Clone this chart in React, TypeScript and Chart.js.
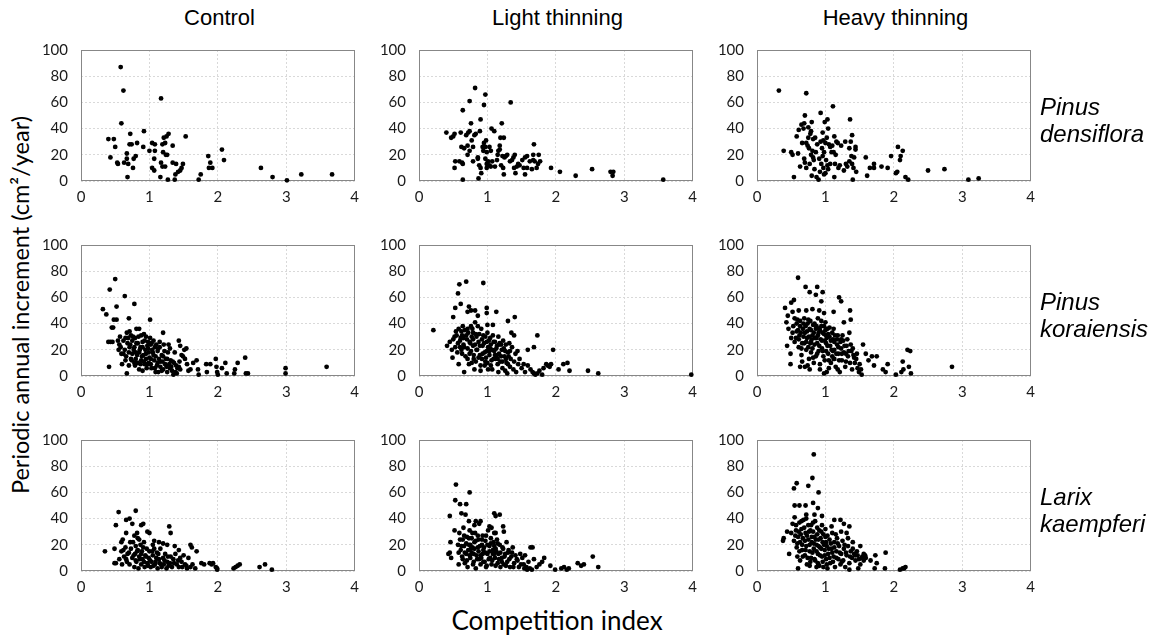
import React, { useEffect, useRef } from 'react';
import { Chart, registerables } from 'chart.js';
Chart.register(...registerables);

type P = [number, number][];

// Pinus densiflora
const pdControl: P = [[0.58,87],[0.62,69],[0.59,44],[0.40,32],[0.48,32],[0.50,26],[0.43,18],[0.53,14],[0.54,13],[0.72,36],[0.71,28],[0.74,28],[0.82,29],[0.92,38],[0.91,26],[0.67,21],[0.67,17],[0.69,13],[0.63,14],[0.77,17],[0.80,19],[0.76,10],[0.68,3],[1.00,23],[1.04,29],[1.08,28],[1.08,23],[1.07,17],[1.04,10],[1.07,8],[1.17,63],[1.21,33],[1.25,34],[1.28,36],[1.19,28],[1.23,29],[1.20,22],[1.24,20],[1.26,20],[1.17,14],[1.19,11],[1.23,11],[1.16,3],[1.27,1],[1.34,27],[1.34,14],[1.39,13],[1.38,5],[1.37,1],[1.42,7],[1.45,8],[1.47,10],[1.49,13],[1.53,34],[1.72,1],[1.75,5],[1.86,19],[1.89,14],[1.87,10],[1.92,10],[2.06,24],[2.09,16],[2.63,10],[2.80,3],[3.01,0.5],[3.22,5],[3.67,5]];
const pdLight: P = [[0.40,37],[0.47,33],[0.50,34],[0.52,36],[0.52,10],[0.53,15],[0.61,37],[0.64,54],[0.62,26],[0.66,25],[0.59,15],[0.63,14],[0.64,13],[0.64,1],[0.74,61],[0.76,44],[0.69,35],[0.72,37],[0.74,38],[0.77,31],[0.71,27],[0.74,23],[0.71,20],[0.79,26],[0.79,15],[0.82,71],[0.81,35],[0.83,36],[0.86,18],[0.86,17],[0.87,2],[0.89,38],[0.90,47],[0.88,12],[0.90,10],[0.91,6],[0.93,26],[0.94,23],[0.95,58],[0.97,66],[0.95,29],[0.98,31],[0.97,26],[0.99,22],[0.97,17],[0.99,13],[0.99,10],[1.01,15],[1.03,26],[1.03,12],[1.05,11],[1.05,23],[1.06,40],[1.10,38],[1.07,15],[1.11,11],[1.14,16],[1.15,20],[1.16,23],[1.18,24],[1.18,27],[1.19,33],[1.21,44],[1.24,33],[1.22,19],[1.20,12],[1.23,10],[1.24,5],[1.25,18],[1.27,19],[1.29,20],[1.34,60],[1.33,15],[1.36,16],[1.38,18],[1.40,20],[1.39,10],[1.41,6],[1.43,11],[1.45,13],[1.47,12],[1.51,16],[1.53,10],[1.55,18],[1.58,19],[1.55,5],[1.58,10],[1.62,15],[1.65,9],[1.67,20],[1.68,28],[1.67,16],[1.69,15],[1.72,10],[1.74,13],[1.75,20],[1.77,15],[1.93,10],[2.06,7],[2.29,4],[2.53,9],[2.80,7],[2.84,7],[2.83,4],[3.57,1]];
const pdHeavy: P = [[0.32,69],[0.72,67],[0.39,23],[0.50,22],[0.52,20],[0.60,21],[0.54,3],[0.58,34],[0.61,39],[0.65,43],[0.69,44],[0.70,50],[0.68,40],[0.75,41],[0.66,29],[0.72,29],[0.75,33],[0.78,36],[0.80,45],[0.79,38],[0.82,32],[0.85,33],[0.76,25],[0.79,20],[0.82,18],[0.83,16],[0.86,22],[0.77,13],[0.72,10],[0.69,17],[0.63,11],[0.70,14],[0.80,4],[0.87,3],[0.90,1],[0.93,52],[0.99,45],[1.03,47],[1.11,57],[1.04,40],[0.96,37],[0.93,30],[0.97,31],[1.00,29],[1.02,33],[1.05,28],[1.07,26],[0.95,25],[0.98,22],[0.94,13],[0.97,10],[1.00,6],[0.98,5],[1.03,12],[1.04,9],[1.07,13],[1.09,22],[1.12,22],[1.13,34],[1.16,30],[1.18,29],[1.14,13],[1.13,3],[1.19,10],[1.21,12],[1.23,27],[1.27,8],[1.29,30],[1.30,13],[1.32,11],[1.35,25],[1.36,47],[1.37,30],[1.39,35],[1.38,19],[1.35,15],[1.39,13],[1.41,10],[1.40,1],[1.44,26],[1.44,24],[1.45,7],[1.42,18],[1.59,18],[1.61,4],[1.65,10],[1.71,13],[1.71,10],[1.82,11],[1.91,10],[1.96,19],[2.03,6],[2.05,7],[2.06,26],[2.13,23],[2.10,19],[2.09,16],[2.17,3],[2.21,1],[2.50,8],[2.74,9],[3.09,1],[3.24,2],[0.74,27],[0.81,23],[0.88,28],[0.91,17],[0.96,19],[1.01,16],[1.10,27],[1.15,20],[0.84,9],[0.92,7]];

// Pinus koraiensis
const pkControl: P = [[0.32,51],[0.37,47],[0.42,66],[0.50,74],[0.52,53],[0.48,43],[0.52,43],[0.45,37],[0.47,37],[0.40,26],[0.43,26],[0.46,26],[0.41,7],[0.64,61],[0.70,44],[0.78,55],[1.01,43],[1.20,33],[0.54,27],[0.56,24],[0.55,20],[0.59,17],[0.60,9],[0.65,29],[0.67,33],[0.71,34],[0.73,31],[0.68,25],[0.71,22],[0.65,12],[0.67,2],[0.75,27],[0.79,29],[0.81,36],[0.85,36],[0.83,25],[0.78,22],[0.75,17],[0.80,13],[0.83,10],[0.85,5],[0.87,22],[0.90,26],[0.92,32],[0.95,30],[0.94,20],[0.91,16],[0.88,12],[0.93,9],[0.96,6],[0.98,26],[1.01,29],[1.03,25],[0.99,18],[1.02,13],[0.99,10],[1.06,16],[1.08,6],[1.10,24],[1.12,19],[1.14,13],[1.09,3],[1.15,22],[1.18,16],[1.19,11],[1.13,3],[1.22,19],[1.24,13],[1.27,18],[1.28,24],[1.31,12],[1.32,7],[1.36,10],[1.38,3],[1.40,2],[1.43,27],[1.45,23],[1.47,16],[1.49,15],[1.51,20],[1.54,21],[1.52,13],[1.55,9],[1.57,4],[1.43,7],[1.45,5],[1.60,5],[1.64,10],[1.69,12],[1.71,5],[1.72,1],[1.83,9],[1.84,3],[1.89,9],[1.97,13],[1.98,7],[1.99,3],[2.00,1],[2.06,6],[2.11,10],[2.13,2],[2.25,5],[2.24,2],[2.29,10],[2.40,14],[2.41,2],[2.44,2],[2.99,6],[2.99,2],[3.59,7],[0.85,18],[0.88,31],[0.97,23],[1.04,20],[1.07,12],[1.02,9],[1.12,10],[1.16,7],[1.20,5],[1.25,7],[1.26,3],[1.29,9],[1.33,4],[1.35,1],[1.41,6],[0.80,18],[0.73,13],[0.70,8],[0.62,17],[0.57,30],[0.78,10],[0.90,4],[0.95,13],[1.08,22],[1.15,26],[1.21,24],[1.30,21],[1.37,18],[0.58,22],[0.62,27],[0.64,20],[0.66,15],[0.69,29],[0.70,18],[0.72,24],[0.74,12],[0.76,30],[0.77,20],[0.79,8],[0.81,25],[0.82,16],[0.84,30],[0.86,20],[0.87,9],[0.89,15],[0.90,22],[0.92,11],[0.93,27],[0.95,17],[0.97,9],[0.98,21],[1.00,14],[1.02,24],[1.03,6],[1.05,18],[1.06,27],[1.09,15],[1.11,8],[1.13,21],[1.16,11],[1.18,4],[1.20,15],[1.23,9],[1.26,13],[1.30,6],[1.34,11],[1.39,8],[1.44,11]];
const pkLight: P = [[0.21,35],[0.59,70],[0.69,72],[0.94,71],[0.57,63],[0.61,55],[0.53,52],[0.50,45],[0.73,53],[0.76,50],[0.82,50],[0.71,49],[0.86,46],[0.99,52],[0.99,48],[1.13,49],[1.08,39],[1.00,39],[1.30,42],[1.40,45],[1.35,33],[1.39,31],[1.73,31],[1.68,22],[1.59,20],[1.96,20],[1.44,19],[0.41,23],[0.45,26],[0.48,20],[0.49,14],[0.52,30],[0.54,34],[0.57,25],[0.58,9],[0.61,29],[0.62,34],[0.64,38],[0.63,17],[0.66,3],[0.66,22],[0.69,31],[0.71,36],[0.74,26],[0.74,17],[0.76,38],[0.77,30],[0.79,23],[0.80,13],[0.82,41],[0.83,32],[0.84,20],[0.81,5],[0.87,26],[0.89,16],[0.90,4],[0.91,36],[0.93,23],[0.94,31],[0.96,18],[0.97,11],[0.99,26],[1.00,33],[1.01,22],[1.01,5],[1.03,16],[1.04,29],[1.05,24],[1.06,12],[1.07,5],[1.08,31],[1.10,19],[1.11,26],[1.12,13],[1.14,23],[1.15,9],[1.16,30],[1.17,17],[1.18,25],[1.19,11],[1.21,20],[1.22,6],[1.23,27],[1.25,15],[1.27,24],[1.28,10],[1.29,2],[1.30,18],[1.32,25],[1.33,7],[1.34,13],[1.36,22],[1.38,5],[1.39,11],[1.41,17],[1.42,3],[1.45,9],[1.47,13],[1.50,6],[1.53,9],[1.55,3],[1.59,8],[1.63,5],[1.66,3],[1.68,2],[1.70,1],[1.73,2],[1.76,4],[1.80,1],[1.82,6],[1.86,9],[1.88,8],[1.91,7],[1.93,9],[2.04,5],[2.11,9],[2.17,10],[2.20,4],[2.47,4],[2.62,2],[3.98,1],[0.79,33],[0.86,38],[0.71,13],[0.77,10],[0.65,29],[0.60,22],[0.92,13],[0.98,14],[1.03,19],[1.09,13],[1.14,16],[1.20,24],[1.26,19],[1.31,15],[1.16,3],[1.26,4],[0.50,28],[0.53,22],[0.55,31],[0.56,18],[0.58,36],[0.60,27],[0.62,20],[0.63,31],[0.65,24],[0.67,35],[0.68,15],[0.70,28],[0.71,21],[0.72,33],[0.73,9],[0.75,25],[0.76,19],[0.78,36],[0.79,28],[0.80,16],[0.82,24],[0.83,11],[0.84,30],[0.85,20],[0.87,14],[0.88,32],[0.89,23],[0.90,8],[0.92,28],[0.93,17],[0.95,25],[0.96,8],[0.97,30],[0.99,19],[1.00,10],[1.02,27],[1.04,21],[1.05,8],[1.07,20],[1.09,26],[1.11,16],[1.13,21],[1.15,13],[1.17,24],[1.20,15],[1.22,11],[1.24,21],[1.27,13],[1.30,9],[1.33,19]];
const pkHeavy: P = [[0.60,75],[0.71,68],[0.88,68],[0.77,64],[0.86,62],[0.96,64],[0.94,57],[0.54,58],[0.50,56],[0.41,52],[0.52,49],[0.61,50],[0.72,50],[0.81,51],[0.91,50],[0.98,48],[1.12,49],[1.20,60],[1.23,57],[1.36,50],[1.37,43],[1.27,41],[0.45,46],[0.43,41],[0.46,36],[0.44,23],[0.49,17],[0.49,9],[1.55,24],[1.59,17],[1.68,15],[1.75,15],[1.71,8],[1.84,5],[1.91,9],[1.88,3],[2.03,1],[2.13,11],[2.20,20],[2.24,19],[2.22,7],[2.14,5],[2.11,3],[2.25,2],[2.85,7],[0.50,29],[0.53,38],[0.55,26],[0.58,34],[0.59,43],[0.61,22],[0.62,31],[0.63,38],[0.65,16],[0.66,25],[0.68,40],[0.70,33],[0.70,7],[0.72,20],[0.73,29],[0.75,43],[0.76,13],[0.77,36],[0.78,25],[0.79,18],[0.81,31],[0.82,39],[0.83,10],[0.84,24],[0.86,36],[0.87,29],[0.88,17],[0.89,44],[0.90,33],[0.91,23],[0.92,5],[0.94,38],[0.95,27],[0.96,19],[0.98,32],[0.99,12],[1.00,41],[1.01,25],[1.02,3],[1.03,36],[1.04,17],[1.06,30],[1.07,23],[1.08,10],[1.10,33],[1.11,19],[1.13,26],[1.13,13],[1.15,7],[1.17,24],[1.18,31],[1.19,17],[1.21,3],[1.23,21],[1.24,12],[1.26,27],[1.27,18],[1.29,7],[1.31,23],[1.33,15],[1.35,33],[1.36,10],[1.38,19],[1.39,5],[1.41,16],[1.43,10],[1.45,13],[1.47,6],[1.49,3],[1.50,9],[1.52,5],[1.53,1],[1.63,12],[0.69,25],[0.79,26],[0.91,36],[1.01,31],[1.12,36],[1.23,28],[0.63,7],[0.77,5],[0.98,2],[1.12,13],[1.30,17],[0.52,33],[0.55,44],[0.57,29],[0.58,40],[0.60,35],[0.61,28],[0.63,42],[0.64,33],[0.65,21],[0.67,36],[0.68,30],[0.69,44],[0.71,38],[0.72,26],[0.73,34],[0.74,40],[0.75,22],[0.76,30],[0.78,42],[0.79,35],[0.80,28],[0.81,21],[0.83,33],[0.84,40],[0.85,29],[0.86,15],[0.87,38],[0.88,25],[0.89,31],[0.90,19],[0.92,35],[0.93,28],[0.94,42],[0.95,21],[0.96,33],[0.97,15],[0.98,38],[0.99,27],[1.00,35],[1.01,19],[1.02,29],[1.03,23],[1.04,32],[1.05,12],[1.06,37],[1.08,27],[1.09,20],[1.10,15],[1.11,28],[1.13,20],[1.14,31],[1.16,17],[1.17,28],[1.19,22],[1.20,12],[1.22,26],[1.24,17],[1.25,31],[1.28,23],[1.30,11],[1.32,28],[1.34,19],[1.37,24],[1.40,21],[1.42,14],[1.46,17],[0.66,11],[0.74,8],[0.82,14],[0.92,9],[1.05,6],[1.18,5]];

// Larix kaempferi
const lkControl: P = [[0.55,45],[0.80,46],[0.51,35],[0.66,39],[0.71,40],[0.75,36],[0.66,29],[0.61,24],[0.59,22],[0.35,15],[0.49,17],[0.49,6],[0.88,35],[0.91,36],[0.97,30],[1.00,29],[1.29,34],[1.31,29],[0.82,29],[0.83,25],[1.07,23],[1.14,22],[1.20,21],[1.26,20],[1.37,19],[1.60,20],[1.62,18],[1.69,15],[1.76,6],[1.80,5],[1.88,6],[1.91,5],[1.93,6],[1.97,3],[1.99,2],[1.99,1],[2.23,2],[2.26,3],[2.29,4],[2.32,5],[2.61,3],[2.69,5],[2.79,1],[0.51,6],[0.56,9],[0.59,15],[0.60,5],[0.63,11],[0.65,18],[0.67,7],[0.68,13],[0.71,5],[0.73,17],[0.75,10],[0.76,22],[0.78,3],[0.79,13],[0.80,19],[0.81,7],[0.83,16],[0.84,2],[0.85,11],[0.87,20],[0.88,5],[0.89,15],[0.90,9],[0.91,18],[0.93,3],[0.94,12],[0.96,17],[0.97,6],[0.99,10],[1.00,15],[1.02,3],[1.03,7],[1.05,12],[1.07,17],[1.08,5],[1.10,10],[1.12,2],[1.13,13],[1.15,6],[1.16,17],[1.18,3],[1.20,10],[1.21,5],[1.23,13],[1.25,2],[1.26,7],[1.28,4],[1.31,11],[1.33,3],[1.36,6],[1.38,13],[1.40,5],[1.43,16],[1.45,10],[1.48,3],[1.50,12],[1.52,5],[1.55,2],[1.57,10],[1.60,3],[1.63,5],[1.67,2],[1.43,3],[0.62,16],[0.66,9],[0.70,14],[0.72,22],[0.77,12],[0.80,8],[0.82,15],[0.86,9],[0.88,13],[0.92,7],[0.95,11],[0.98,4],[1.01,8],[1.04,15],[1.06,4],[1.09,7],[1.11,14],[1.14,9],[1.17,5],[1.22,8],[1.27,11],[1.30,6],[1.35,9],[1.42,8],[1.47,7],[1.54,4],[0.78,27],[0.85,24],[0.92,22],[1.05,20]];
const lkLight: P = [[0.54,66],[0.74,60],[0.53,54],[0.60,51],[0.69,51],[0.62,44],[0.68,43],[0.45,42],[1.10,44],[1.12,42],[1.18,43],[1.23,34],[1.24,30],[0.73,38],[0.83,38],[0.90,38],[1.03,34],[1.06,33],[1.12,29],[0.52,31],[0.46,22],[0.45,14],[0.47,10],[0.43,13],[0.58,5],[2.54,11],[2.62,3],[2.32,6],[2.37,4],[2.41,5],[1.92,4],[1.99,1],[2.08,2],[2.12,3],[2.16,1],[2.19,2],[1.83,10],[1.80,7],[1.76,5],[1.72,3],[1.68,9],[1.63,18],[1.66,18],[1.60,7],[1.58,1],[1.62,2],[1.65,1],[0.57,20],[0.59,29],[0.61,16],[0.63,11],[0.64,24],[0.65,33],[0.66,19],[0.67,6],[0.69,13],[0.70,26],[0.71,3],[0.73,20],[0.74,31],[0.75,10],[0.76,17],[0.77,25],[0.79,5],[0.80,13],[0.81,22],[0.82,29],[0.83,2],[0.85,9],[0.86,18],[0.87,24],[0.88,36],[0.90,12],[0.90,5],[0.92,20],[0.93,27],[0.94,16],[0.96,7],[0.97,23],[0.98,3],[1.00,13],[1.01,31],[1.03,19],[1.04,10],[1.05,25],[1.06,5],[1.08,16],[1.09,22],[1.11,10],[1.12,17],[1.14,24],[1.15,6],[1.16,13],[1.18,20],[1.19,3],[1.21,10],[1.22,18],[1.24,5],[1.26,13],[1.28,22],[1.29,7],[1.31,16],[1.33,3],[1.35,11],[1.37,18],[1.39,6],[1.41,12],[1.43,9],[1.46,3],[1.48,13],[1.51,10],[1.53,5],[1.55,12],[1.54,2],[1.57,3],[0.78,18],[0.93,13],[1.10,13],[0.74,12],[0.99,4],[0.88,9],[1.10,29],[0.81,35],[0.58,14],[0.60,24],[0.62,19],[0.64,9],[0.66,27],[0.67,14],[0.69,21],[0.70,8],[0.72,16],[0.73,25],[0.75,20],[0.77,14],[0.78,29],[0.80,7],[0.81,17],[0.83,23],[0.84,12],[0.86,27],[0.87,15],[0.89,19],[0.91,10],[0.92,24],[0.94,7],[0.95,18],[0.97,14],[0.98,27],[1.00,20],[1.02,9],[1.03,15],[1.05,21],[1.07,8],[1.08,13],[1.10,19],[1.12,4],[1.13,15],[1.15,21],[1.17,9],[1.19,14],[1.21,7],[1.23,17],[1.25,11],[1.27,4],[1.30,14],[1.32,9],[1.36,14],[1.38,3],[1.44,8],[1.49,5]];
const lkHeavy: P = [[0.83,89],[0.81,71],[0.75,65],[0.58,67],[0.54,63],[0.90,60],[0.55,50],[0.62,50],[0.71,50],[0.82,52],[0.89,48],[0.72,43],[0.84,43],[0.95,42],[0.38,23],[0.39,25],[0.44,30],[0.47,13],[0.60,2],[0.77,4],[0.87,3],[1.13,39],[1.22,39],[1.27,36],[1.35,34],[1.31,29],[1.40,22],[1.51,19],[1.56,13],[1.59,10],[1.73,12],[1.88,14],[1.66,8],[1.75,6],[1.72,2],[1.87,2],[2.09,1],[2.13,2],[2.15,2],[2.17,3],[1.48,2],[1.35,1],[0.50,29],[0.52,36],[0.54,23],[0.55,41],[0.57,31],[0.58,18],[0.59,11],[0.60,26],[0.62,37],[0.63,22],[0.63,8],[0.65,32],[0.66,16],[0.67,25],[0.68,39],[0.70,12],[0.71,29],[0.72,19],[0.73,5],[0.75,35],[0.75,24],[0.77,15],[0.78,31],[0.79,10],[0.80,22],[0.82,37],[0.83,17],[0.84,26],[0.85,8],[0.87,20],[0.88,33],[0.89,13],[0.90,24],[0.91,4],[0.92,18],[0.94,30],[0.95,11],[0.96,22],[0.97,3],[0.99,16],[1.00,26],[1.01,9],[1.02,19],[1.03,2],[1.04,13],[1.06,24],[1.07,6],[1.09,17],[1.10,29],[1.12,11],[1.13,22],[1.14,3],[1.16,15],[1.17,25],[1.19,9],[1.20,19],[1.22,5],[1.23,13],[1.25,23],[1.26,8],[1.27,17],[1.29,3],[1.31,12],[1.33,19],[1.35,6],[1.37,15],[1.39,10],[1.42,13],[1.44,8],[1.47,12],[1.49,9],[1.51,5],[1.54,11],[1.56,8],[0.56,27],[0.57,35],[0.59,21],[0.61,30],[0.62,15],[0.64,28],[0.65,38],[0.66,20],[0.67,11],[0.69,33],[0.70,23],[0.71,16],[0.72,40],[0.73,27],[0.74,10],[0.76,30],[0.77,20],[0.78,7],[0.79,35],[0.80,26],[0.81,14],[0.82,30],[0.83,21],[0.84,9],[0.85,38],[0.86,24],[0.87,15],[0.88,28],[0.89,6],[0.90,19],[0.91,31],[0.92,12],[0.93,25],[0.94,17],[0.95,35],[0.96,7],[0.97,28],[0.98,20],[0.99,12],[1.00,32],[1.01,22],[1.02,5],[1.03,27],[1.05,17],[1.06,10],[1.08,21],[1.09,34],[1.10,14],[1.11,7],[1.13,18],[1.15,28],[1.16,10],[1.18,21],[1.21,14],[1.23,30],[1.24,7],[1.28,20],[1.30,14],[1.33,25],[1.36,11],[1.40,17],[1.44,12],[1.46,15],[1.53,10],[1.58,12]];

const panelData: P[][] = [
  [pdControl, pdLight, pdHeavy],
  [pkControl, pkLight, pkHeavy],
  [lkControl, lkLight, lkHeavy],
];
const treatments = ['Control', 'Light thinning', 'Heavy thinning'];
const speciesNames = [['Pinus', 'densiflora'], ['Pinus', 'koraiensis'], ['Larix', 'kaempferi']];
const xTickValues = [0, 1, 2, 3, 4];
const yTickValues = [0, 20, 40, 60, 80, 100];
const xAxisTitle = 'Competition index';
const yAxisTitle = 'Periodic annual increment (cm\u00B2/year)';

const AREA_LEFT = [81, 419, 757];
const AREA_TOP = [38, 233, 428];
const AREA_W = 277;
const AREA_H = 143;
const Y_AXIS_W = 44;
const X_AXIS_H = 26;
const PAD_TOP = 10;
const PAD_RIGHT = 8;
const TICK_FONT = { family: 'Lato, "Open Sans", sans-serif', size: 15 };

const framePlugin = {
  id: 'frame',
  beforeDatasetsDraw(chart: any) {
    const { ctx, chartArea: a } = chart;
    ctx.save();
    ctx.strokeStyle = '#878787';
    ctx.lineWidth = 1;
    ctx.setLineDash([]);
    ctx.strokeRect(Math.round(a.left) + 0.5, Math.round(a.top) + 0.5, Math.round(a.right - a.left) - 1, Math.round(a.bottom - a.top) - 1);
    ctx.restore();
  },
};

function Panel({ data, left, top }: { data: P; left: number; top: number }) {
  const ref = useRef<HTMLCanvasElement>(null);
  const w = Y_AXIS_W + AREA_W + PAD_RIGHT;
  const h = PAD_TOP + AREA_H + X_AXIS_H;
  useEffect(() => {
    if (!ref.current) return;
    const chart = new Chart(ref.current, {
      type: 'scatter',
      data: {
        datasets: [{
          data: data.map(([x, y]) => ({ x, y })),
          backgroundColor: '#000',
          borderColor: '#000',
          pointRadius: 2.4,
          pointBorderWidth: 0,
          pointHoverRadius: 2.4,
          clip: false as any,
        }],
      },
      options: {
        animation: false,
        responsive: false,
        devicePixelRatio: 1,
        events: [],
        layout: { padding: { top: PAD_TOP, right: PAD_RIGHT, left: 0, bottom: 0 } },
        plugins: { legend: { display: false }, tooltip: { enabled: false } },
        scales: {
          x: {
            type: 'linear', min: 0, max: 4,
            afterBuildTicks: (s: any) => { s.ticks = xTickValues.map(v => ({ value: v })); },
            afterFit: (s: any) => { s.height = X_AXIS_H; },
            ticks: { font: TICK_FONT, color: '#1a1a1a', padding: 7, maxRotation: 0 },
            grid: { color: '#d9d9d9', drawTicks: false, lineWidth: 1 },
            border: { display: false, dash: [2, 2] },
          },
          y: {
            type: 'linear', min: 0, max: 100,
            afterBuildTicks: (s: any) => { s.ticks = yTickValues.map(v => ({ value: v })); },
            afterFit: (s: any) => { s.width = Y_AXIS_W; },
            ticks: { font: TICK_FONT, color: '#1a1a1a', padding: 13 },
            grid: { color: '#d9d9d9', drawTicks: false, lineWidth: 1 },
            border: { display: false, dash: [2, 2] },
          },
        },
      } as any,
      plugins: [framePlugin],
    });
    return () => chart.destroy();
  }, [data]);
  return (
    <canvas ref={ref} width={w} height={h}
      style={{ position: 'absolute', left: left - Y_AXIS_W, top: top - PAD_TOP, width: w, height: h }} />
  );
}

export default function App() {
  const sans = '"Liberation Sans", Arial, sans-serif';
  const cal = 'Lato, "Open Sans", sans-serif';
  return (
    <div style={{ position: 'absolute', left: 0, top: 0, width: 1163, height: 637, background: '#fff', overflow: 'hidden' }}>
      {treatments.map((t, c) => (
        <div key={t} style={{ position: 'absolute', left: AREA_LEFT[c], top: 5, width: AREA_W, textAlign: 'center', fontFamily: sans, fontSize: 22, lineHeight: '26px', color: '#000' }}>{t}</div>
      ))}
      {panelData.map((row, r) => row.map((d, c) => (
        <Panel key={r + '-' + c} data={d} left={AREA_LEFT[c]} top={AREA_TOP[r]} />
      )))}
      {speciesNames.map((s, r) => (
        <div key={s.join(' ')} style={{ position: 'absolute', left: 1040, top: AREA_TOP[r] + 55, fontFamily: sans, fontStyle: 'italic', fontSize: 24, lineHeight: '27px', color: '#000', whiteSpace: 'nowrap' }}>
          {s[0]}<br />{s[1]}
        </div>
      ))}
      <div style={{ position: 'absolute', left: 20 - 270, top: 305 - 15, width: 540, height: 30, lineHeight: '30px', textAlign: 'center', transform: 'rotate(-90deg)', transformOrigin: '50% 50%', fontFamily: cal, fontSize: 23.5, color: '#000', whiteSpace: 'nowrap' }}>{yAxisTitle}</div>
      <div style={{ position: 'absolute', left: 557 - 200, top: 605, width: 400, textAlign: 'center', lineHeight: '30px', fontFamily: cal, fontSize: 26, color: '#000' }}>{xAxisTitle}</div>
    </div>
  );
}
